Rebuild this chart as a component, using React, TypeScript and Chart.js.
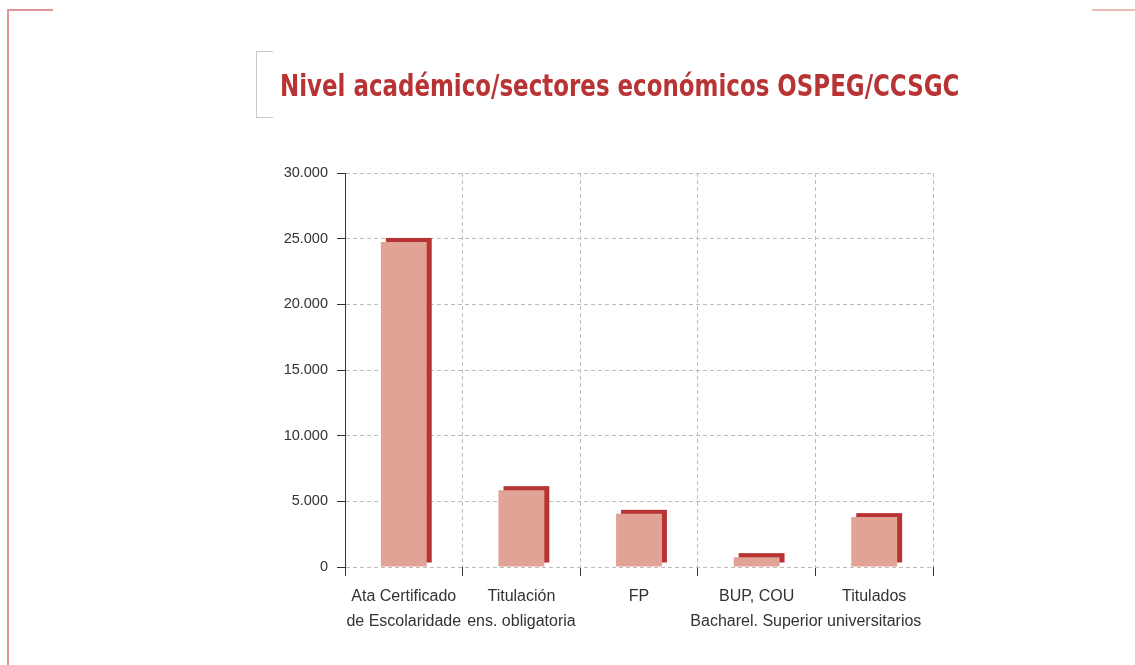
import React, { useEffect, useRef } from "react";
import { Chart, registerables } from "chart.js";

Chart.register(...registerables);

const categories: string[][] = [
  ["Ata Certificado", "de Escolaridade"],
  ["Titulación", "ens. obligatoria"],
  ["FP"],
  ["BUP, COU", "Bacharel. Superior"],
  ["Titulados", "universitarios"],
];
const values: number[] = [24750, 5850, 4050, 750, 3800];
const yTicks: number[] = [0, 5000, 10000, 15000, 20000, 25000, 30000];
const titleText = "Nivel académico/sectores económicos OSPEG/CCSGC";

const PINK = "#e0a396";
const DARK = "#b83434";
const FONT = "'Liberation Sans', Arial, sans-serif";
const TITLE_FONT = "'DejaVu Sans Condensed', 'DejaVu Sans', sans-serif";

const shadowPlugin = {
  id: "barShadow",
  beforeDatasetsDraw(chart: any) {
    const meta = chart.getDatasetMeta(0);
    const ctx = chart.ctx;
    ctx.save();
    ctx.fillStyle = DARK;
    meta.data.forEach((bar: any) => {
      const { x, y, base, width } = bar.getProps(["x", "y", "base", "width"], true);
      ctx.fillRect(x - width / 2 + 5, y - 4, width, base - y);
    });
    ctx.restore();
  },
};

export default function App() {
  const ref = useRef<HTMLCanvasElement | null>(null);

  useEffect(() => {
    document.body.style.margin = "0";
    if (!ref.current) return;
    const chart = new Chart(ref.current, {
      type: "bar",
      data: {
        labels: categories,
        datasets: [
          {
            data: values,
            backgroundColor: PINK,
            borderWidth: 0,
            barPercentage: 0.39,
            categoryPercentage: 1,
          },
        ],
      },
      plugins: [shadowPlugin],
      options: {
        responsive: false,
        animation: false,
        layout: { padding: { left: 0, top: 173, right: 202, bottom: 0 } },
        plugins: { legend: { display: false }, tooltip: { enabled: false }, title: { display: false } },
        scales: {
          x: {
            offset: true,
            grid: {
              offset: true,
              color: "#bdbdbd",
              lineWidth: 1,
              tickColor: "#333",
              tickLength: 9,
              tickBorderDash: [],
              drawTicks: true,
            },
            border: { display: false, dash: [4, 3] },
            ticks: {
              color: "#333",
              padding: 8,
              font: { family: FONT, size: 16, lineHeight: 1.55 },
              maxRotation: 0,
              autoSkip: false,
            },
            afterFit: (s: any) => {
              s.height = 98;
            },
          },
          y: {
            min: 0,
            max: 30000,
            afterBuildTicks: (s: any) => {
              s.ticks = yTicks.map((v) => ({ value: v }));
            },
            grid: {
              color: "#bdbdbd",
              lineWidth: 1,
              tickColor: "#333",
              tickLength: 8,
              tickBorderDash: [],
            },
            border: { display: true, color: "#333", width: 1, dash: [4, 3] },
            ticks: {
              color: "#333",
              padding: 9,
              font: { family: FONT, size: 14.5 },
              callback: (v: any) => (v === 0 ? "0" : Number(v).toLocaleString("de-DE")),
            },
            afterFit: (s: any) => {
              s.width = 345;
            },
          },
        },
      },
    } as any);
    return () => chart.destroy();
  }, []);

  return (
    <div style={{ position: "relative", width: 1135, height: 665, background: "#fff", overflow: "hidden" }}>
      <canvas ref={ref} width={1135} height={665} style={{ position: "absolute", left: 0, top: 0, display: "block" }} />
      {/* page frame */}
      <div style={{ position: "absolute", left: 7, top: 9, width: 1.5, height: 660, background: "#e39595" }} />
      <div style={{ position: "absolute", left: 7, top: 9, width: 46, height: 1.5, background: "#e39595" }} />
      <div style={{ position: "absolute", left: 1092, top: 9, width: 43, height: 1.5, background: "#ebbcb0" }} />
      {/* title bracket */}
      <div style={{ position: "absolute", left: 256, top: 51, width: 1, height: 67, background: "#c8c8c8" }} />
      <div style={{ position: "absolute", left: 256, top: 51, width: 17, height: 1, background: "#c8c8c8" }} />
      <div style={{ position: "absolute", left: 256, top: 117, width: 17, height: 1, background: "#c8c8c8" }} />
      <div
        style={{
          position: "absolute",
          left: 280,
          top: 70,
          fontFamily: TITLE_FONT,
          fontWeight: "bold",
          fontSize: 30,
          lineHeight: "32px",
          color: "#b83434",
          whiteSpace: "nowrap",
          transform: "scaleX(0.85)",
          transformOrigin: "left center",
        }}
      >
        {titleText}
      </div>
    </div>
  );
}
